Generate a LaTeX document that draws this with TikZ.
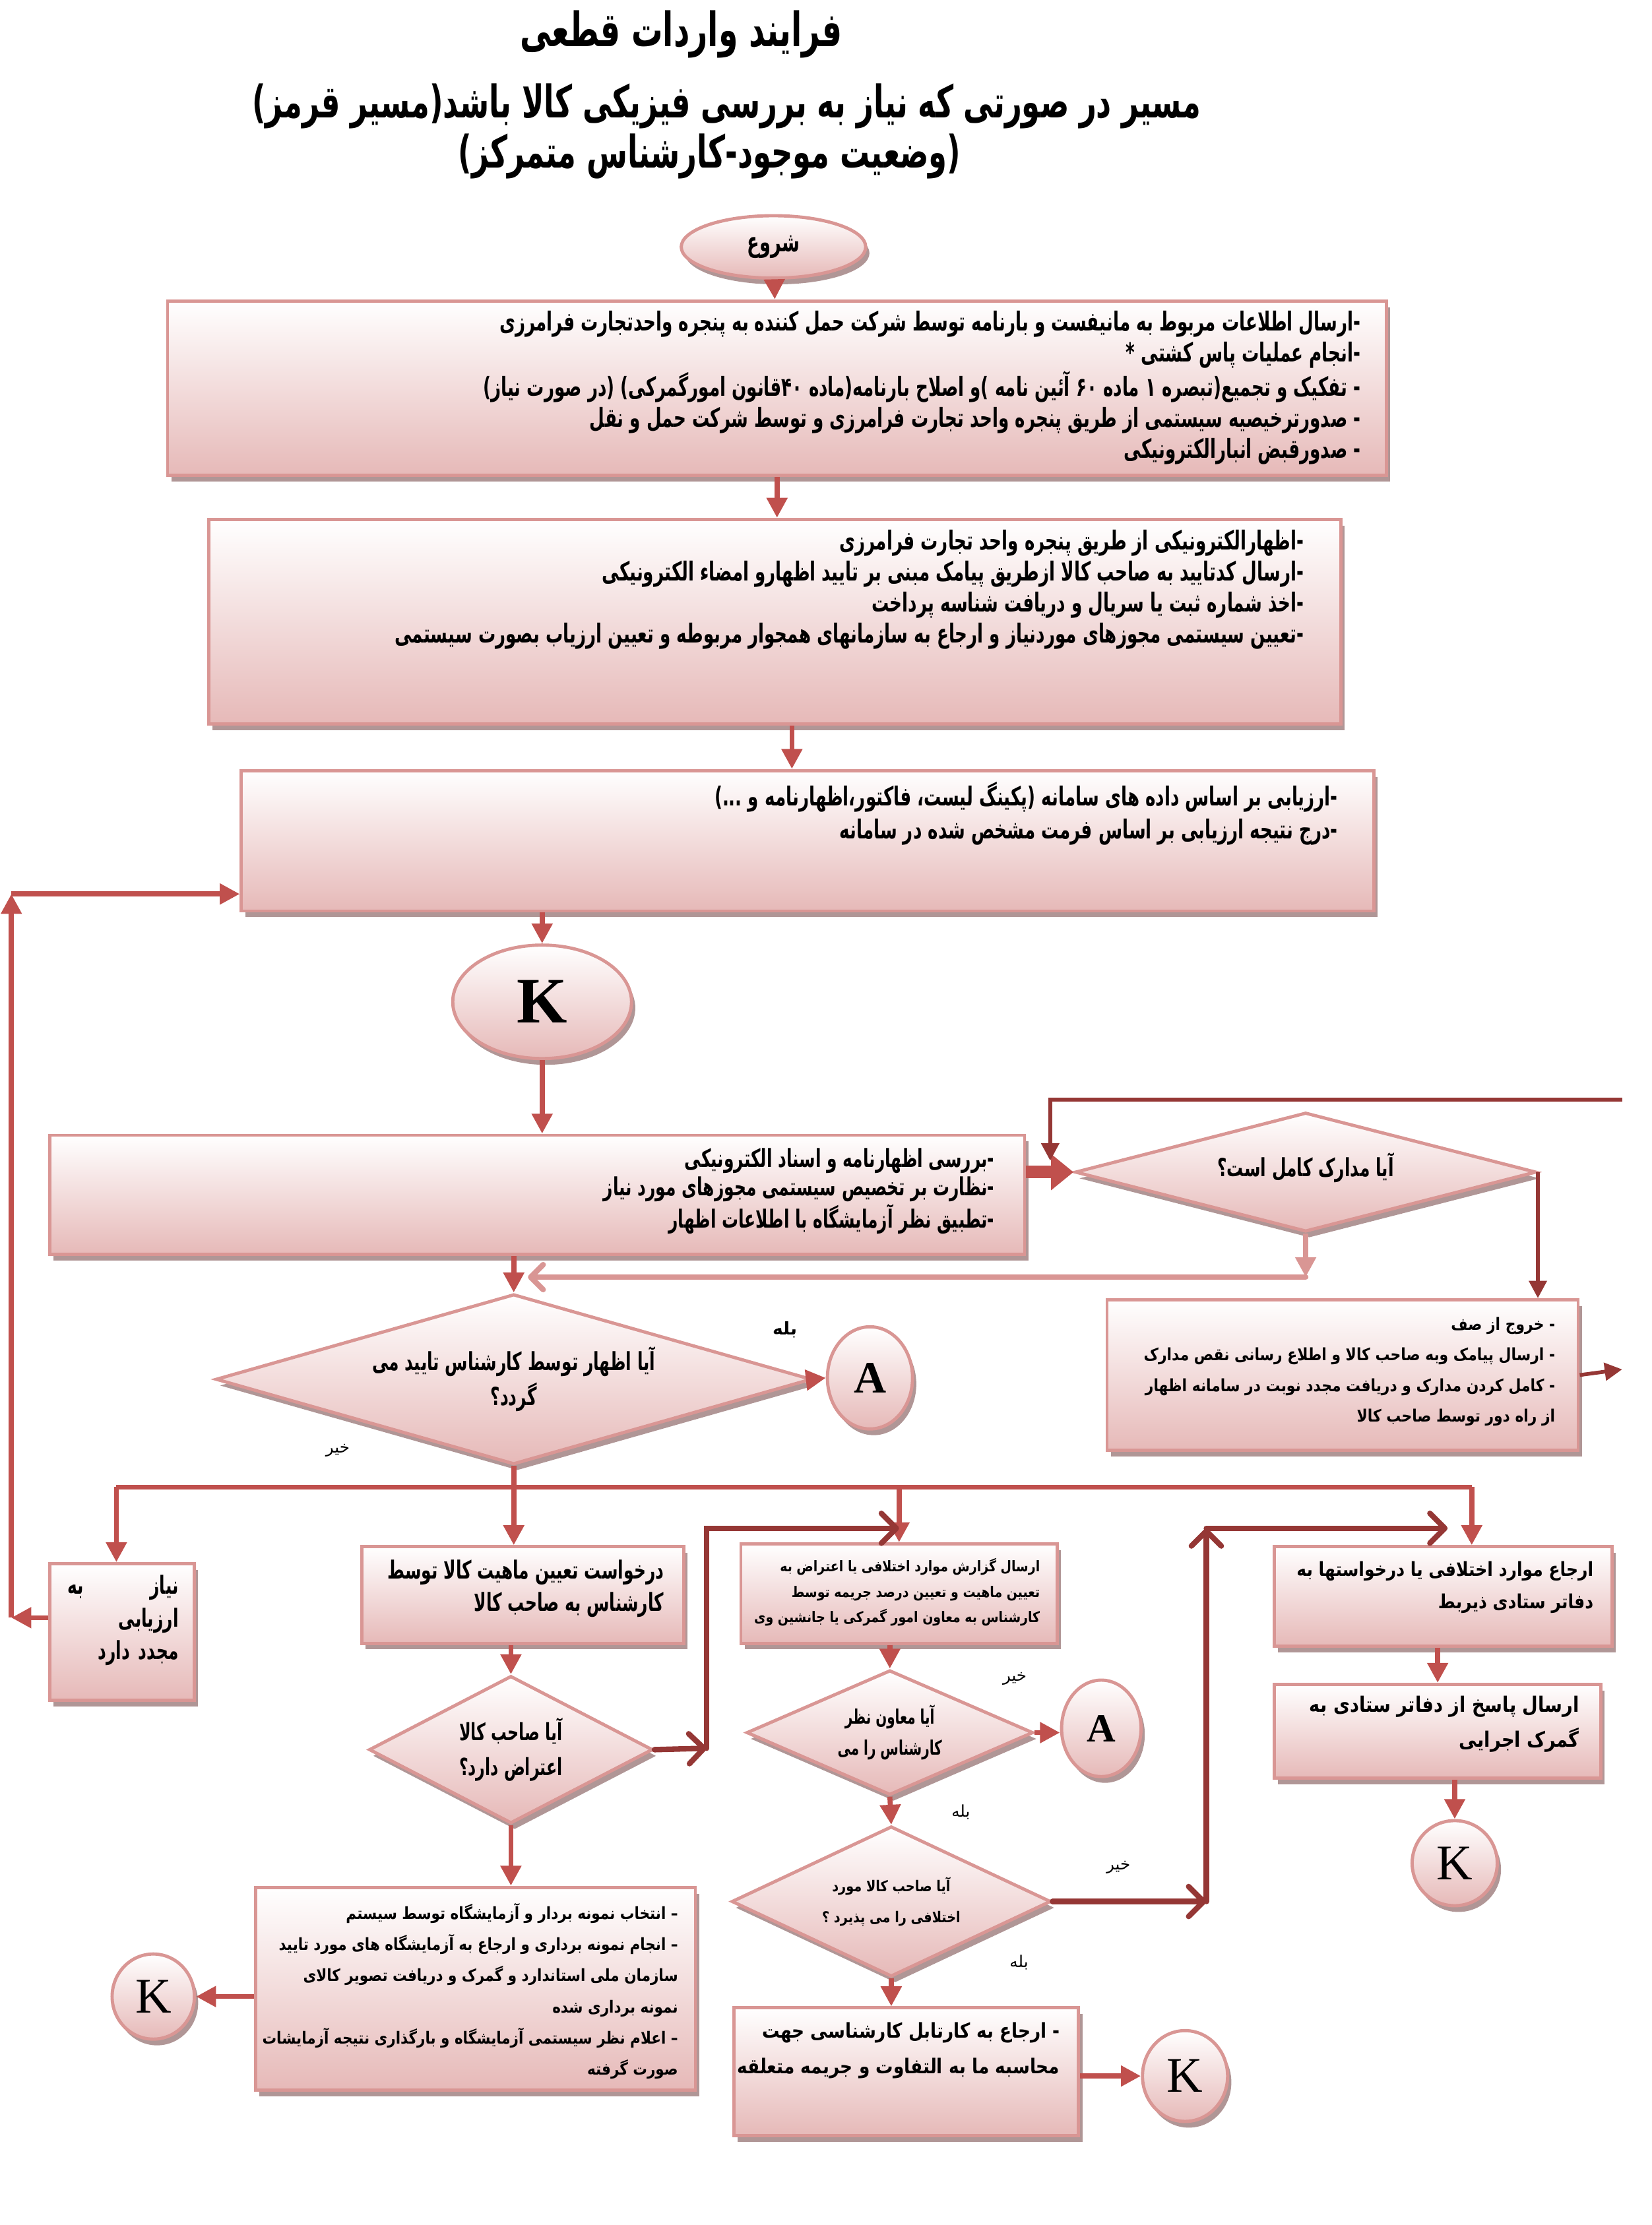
\documentclass[tikz,border=0pt]{standalone}
\usepackage{fontspec}
\usetikzlibrary{shapes.geometric, arrows.meta, positioning, shadows, calc}
\TeXXeTstate=1
\newfontfamily\fa[Script=Arabic]{DejaVu Sans}
\newfontfamily\facn[Script=Arabic,FakeStretch=0.66]{DejaVu Sans}
\newfontfamily\fanr[Script=Arabic,FakeStretch=0.85]{DejaVu Sans}
\newfontfamily\latin{Liberation Serif}
\newcommand{\rtl}[1]{\beginR#1\endR}

\definecolor{boxfill}{HTML}{E6B9B8}
\definecolor{boxline}{HTML}{D99694}
\definecolor{boxshade}{HTML}{B09696}
\definecolor{flowred}{HTML}{C0504D}
\definecolor{darkred}{HTML}{953735}
\definecolor{palered}{HTML}{D99694}

\begin{document}
\begin{tikzpicture}[x=0.02cm, y=-0.02cm,
    box/.style={draw=boxline, line width=1.3pt, top color=white, bottom color=boxfill,
      drop shadow={fill=boxshade, opacity=1, shadow xshift=1.5pt, shadow yshift=-2.5pt}},
    rbox/.style={box, rectangle, inner sep=0pt},
    ask/.style={box, diamond, inner sep=0pt},
    conn/.style={box, ellipse, inner sep=0pt, font=\latin\fontsize{20}{20}\selectfont},
    cbold/.style 2 args={font=\facn\bfseries\fontsize{#1}{#2}\selectfont, align=right, inner sep=0pt},
    nbold/.style 2 args={font=\fanr\bfseries\fontsize{#1}{#2}\selectfont, align=right, inner sep=0pt},
    flow/.style={draw=flowred, line width=2pt, -{Triangle[length=8pt,width=8pt]}},
    bigflow/.style={draw=flowred, line width=5pt, -{Triangle[length=9pt,width=14pt]}},
    darkflow/.style={draw=darkred, line width=1.5pt, -{Triangle[length=7pt,width=7pt]}},
    chev/.style={draw=darkred, line width=2.2pt, line cap=round, -{Straight Barb[length=6pt,width=12pt,round]}},
    pale/.style={draw=palered, line width=2pt, -{Triangle[length=8pt,width=8pt]}},
    palechev/.style={draw=palered, line width=2.2pt, line cap=round, -{Straight Barb[length=5pt,width=10pt,round]}},
    tag/.style={font=\fa\fontsize{6.5}{8}\selectfont, inner sep=0pt}
  ]
  \useasboundingbox (0,0) rectangle (1164,1568);

  % titles
  \node[cbold={19}{24}, align=center] (title) at (480,24) {\rtl{فرایند واردات  قطعی}};
  \node[cbold={18}{20}, align=center] (sub1) at (512,75) {\rtl{مسیر در صورتی که نیاز به بررسی فیزیکی کالا باشد(مسیر قرمز)}};
  \node[cbold={18}{20}, align=center] (sub2) at (500,110) {\rtl{(وضعیت موجود-کارشناس متمرکز)}};

  % upper part
  \node[box, ellipse, minimum width=2.6cm, minimum height=0.88cm, font=\facn\bfseries\fontsize{11}{12}\selectfont] (start) at (545,174) {\rtl{شروع}};

  \node[rbox, minimum width=17.18cm, minimum height=2.46cm] (b1) at (547.5,273.5) {};
  \node[cbold={10.5}{12.5}, anchor=north east] (b1t) at ($(b1.north east)+(-19,8)$) {%
    \rtl{-ارسال اطلاعات مربوط به مانیفست و بارنامه توسط شرکت حمل کننده به پنجره واحدتجارت فرامرزی}\\
    \rtl{-انجام عملیات پاس کشتی *}\\
    \rtl{- تفکیک و تجمیع(تبصره ۱ ماده ۶۰ آئین نامه )و اصلاح بارنامه(ماده ۴۰قانون امورگمرکی)  (در صورت نیاز)}\\
    \rtl{- صدورترخیصیه سیستمی از طریق پنجره واحد تجارت فرامرزی و توسط شرکت حمل و نقل}\\
    \rtl{- صدورقبض انبارالکترونیکی}};

  \node[rbox, minimum width=15.96cm, minimum height=2.88cm] (b2) at (546,438) {};
  \node[cbold={10.5}{12.5}, anchor=north east] (b2t) at ($(b2.north east)+(-27,8)$) {%
    \rtl{-اظهارالکترونیکی از طریق پنجره واحد تجارت فرامرزی}\\
    \rtl{-ارسال کدتایید به صاحب کالا ازطریق پیامک مبنی بر تایید اظهارو امضاء الکترونیکی}\\
    \rtl{-اخذ شماره ثبت یا سریال و دریافت شناسه پرداخت}\\
    \rtl{-تعیین سیستمی مجوزهای موردنیاز و ارجاع به سازمانهای همجوار مربوطه و تعیین ارزیاب  بصورت سیستمی}};

  \node[rbox, minimum width=15.96cm, minimum height=1.98cm] (b3) at (569,592.5) {};
  \node[cbold={10.5}{13}, anchor=north east] (b3t) at ($(b3.north east)+(-26,9)$) {%
    \rtl{-ارزیابی بر اساس داده های سامانه (پکینگ لیست، فاکتور،اظهارنامه و ...)}\\
    \rtl{-درج نتیجه ارزیابی بر اساس فرمت مشخص شده در سامانه}};

  \node[conn, minimum width=2.52cm, minimum height=1.6cm, font=\latin\bfseries\fontsize{26}{26}\selectfont] (k1) at (382,706) {K};

  \node[rbox, minimum width=13.74cm, minimum height=1.68cm] (b4) at (378.5,842) {};
  \node[cbold={10}{11.4}, anchor=north east] (b4t) at ($(b4.north east)+(-22,10)$) {%
    \rtl{-بررسی اظهارنامه و  اسناد الکترونیکی}\\
    \rtl{-نظارت بر تخصیص سیستمی مجوزهای مورد نیاز}\\
    \rtl{-تطبیق نظر آزمایشگاه با اطلاعات اظهار}};

  \node[ask, minimum width=6.5cm, minimum height=1.68cm] (d1) at (920,826) {};
  \node[cbold={10}{12}, align=center] (d1t) at ($(d1)+(0,-3)$) {\rtl{آیا مدارک کامل است؟}};

  \node[rbox, minimum width=6.64cm, minimum height=2.12cm] (b5) at (946,969) {};
  \node[nbold={6.8}{12.3}, anchor=north east] (b5t) at ($(b5.north east)+(-17,13)$) {%
    \rtl{- خروج از صف}\\
    \rtl{- ارسال پیامک وبه صاحب کالا و اطلاع رسانی نقص مدارک}\\
    \rtl{- کامل کردن مدارک  و دریافت  مجدد نوبت در سامانه اظهار}\\
    \rtl{از راه دور توسط صاحب کالا}};

  % expert decision
  \node[ask, minimum width=8.4cm, minimum height=2.4cm] (d2) at (362,972) {};
  \node[cbold={10}{14}, align=center] (d2t) at (d2) {\rtl{آیا اظهار  توسط کارشناس تایید می}\\ \rtl{گردد؟}};
  \node[conn, minimum width=1.2cm, minimum height=1.44cm, font=\latin\bfseries\fontsize{18}{18}\selectfont] (a1) at (613,971) {A};

  % lower part
  \node[rbox, minimum width=2.04cm, minimum height=1.92cm] (b6) at (86,1150) {};
  \node[cbold={10}{13}, anchor=north east, text width=1.56cm] (b6t) at ($(b6.north east)+(-12,9)$) {%
    \rtl{نیاز\hfill به}\\ \rtl{ارزیابی}\\ \rtl{مجدد دارد}};

  \node[rbox, minimum width=4.54cm, minimum height=1.36cm] (b7) at (368.5,1124) {};
  \node[cbold={10}{13}, anchor=north east] (b7t) at ($(b7.north east)+(-15,10)$) {%
    \rtl{درخواست  تعیین ماهیت کالا توسط}\\ \rtl{کارشناس به صاحب کالا}};

  \node[ask, minimum width=4cm, minimum height=2.08cm] (d3) at (360,1233) {};
  \node[cbold={9.5}{14}, align=center] (d3t) at (d3) {\rtl{آیا صاحب کالا}\\ \rtl{اعتراض دارد؟}};

  \node[rbox, minimum width=6.2cm, minimum height=2.86cm] (b8) at (335,1401.5) {};
  \node[nbold={6.7}{12.5}, anchor=north east] (b8t) at ($(b8.north east)+(-13,12)$) {%
    \rtl{– انتخاب نمونه بردار و آزمایشگاه توسط سیستم}\\
    \rtl{– انجام نمونه برداری و ارجاع به آزمایشگاه های مورد تایید}\\
    \rtl{سازمان ملی استاندارد و گمرک و دریافت تصویر کالای}\\
    \rtl{نمونه برداری شده}\\
    \rtl{– اعلام نظر سیستمی آزمایشگاه و بارگذاری نتیجه آزمایشات}\\
    \rtl{صورت گرفته}};
  \node[conn, minimum width=1.16cm, minimum height=1.2cm] (k2) at (108,1407) {K};

  \node[rbox, minimum width=4.46cm, minimum height=1.4cm] (b9) at (633.5,1123) {};
  \node[nbold={5.9}{10.2}, anchor=north east] (b9t) at ($(b9.north east)+(-13,11)$) {%
    \rtl{ارسال گزارش موارد اختلافی یا اعتراض به}\\
    \rtl{تعیین ماهیت و تعیین درصد جریمه توسط}\\
    \rtl{کارشناس به معاون امور گمرکی یا جانشین وی}};

  \node[ask, minimum width=4.04cm, minimum height=1.76cm] (d4) at (627,1221) {};
  \node[cbold={8}{12.5}, align=center] (d4t) at (d4) {\rtl{آیا معاون نظر}\\ \rtl{کارشناس را می}};
  \node[conn, minimum width=1.12cm, minimum height=1.36cm, font=\latin\bfseries\fontsize{16}{16}\selectfont] (a2) at (776,1218) {A};

  \node[ask, minimum width=4.5cm, minimum height=2.12cm] (d5) at (628,1340) {};
  \node[nbold={6}{12.5}, align=center] (d5t) at (d5) {\rtl{آیا صاحب کالا مورد}\\ \rtl{اختلافی را می پذیرد ؟}};

  \node[rbox, minimum width=4.86cm, minimum height=1.8cm] (b10) at (638.5,1460) {};
  \node[nbold={8.2}{14.2}, anchor=north east] (b10t) at ($(b10.north east)+(-14,11)$) {%
    \rtl{- ارجاع به کارتابل کارشناسی جهت}\\
    \rtl{محاسبه ما به التفاوت و جریمه متعلقه}};
  \node[conn, minimum width=1.2cm, minimum height=1.28cm] (k3) at (835,1463) {K};

  \node[rbox, minimum width=4.76cm, minimum height=1.4cm] (b11) at (1017,1125) {};
  \node[nbold={7.8}{13}, anchor=north east] (b11t) at ($(b11.north east)+(-14,11)$) {%
    \rtl{ارجاع موارد اختلافی یا درخواستها به}\\ \rtl{دفاتر ستادی ذیربط}};

  \node[rbox, minimum width=4.6cm, minimum height=1.32cm] (b12) at (1013,1220) {};
  \node[nbold={8.5}{14}, anchor=north east] (b12t) at ($(b12.north east)+(-16,9)$) {%
    \rtl{ارسال پاسخ از دفاتر ستادی به}\\ \rtl{گمرک اجرایی}};
  \node[conn, minimum width=1.2cm, minimum height=1.2cm] (k4) at (1025,1313) {K};

  % yes / no tags
  \node[tag, font=\fa\bfseries\fontsize{7}{8}\selectfont] (yes1) at (553,937) {\rtl{بله}};
  \node[tag] (no1) at (238,1022) {\rtl{خیر}};
  \node[tag] (no2) at (715,1183) {\rtl{خیر}};
  \node[tag] (yes2) at (677,1277) {\rtl{بله}};
  \node[tag] (no3) at (788,1316) {\rtl{خیر}};
  \node[tag] (yes3) at (718,1383) {\rtl{بله}};

  % helper points
  \coordinate (b23) at ($(b2.south)+(12,0)$);
  \coordinate (busL) at (82,1048);
  \coordinate (busR) at (1037,1048);
  \coordinate (lb) at (8,1140);
  \coordinate (lt) at (8,630);
  \coordinate (tr) at (1143,775);
  \coordinate (tl) at (740,775);
  \coordinate (tin) at (740,818);
  \coordinate (b5out) at (1143,965);
  \coordinate (pj) at (925,900);
  \coordinate (pl) at (372,900);
  \coordinate (c1) at (498,1232);
  \coordinate (c2) at (498,1077);
  \coordinate (c3) at (850,1340);
  \coordinate (c4) at (850,1077);
  \coordinate (c5) at (1020,1077);

  % connectors
  \draw[flow] (start) -- (b1);
  \draw[flow] (b1.south) -- (b1.south |- b2.north);
  \draw[flow] (b23) -- (b23 |- b3.north);
  \draw[flow] (k1.north |- b3.south) -- (k1.north);
  \draw[flow] (k1.south) -- (k1.south |- b4.north);
  \draw[bigflow] (b4.east |- d1.west) -- (d1.west);
  \draw[darkflow] (d1.east) -- (d1.east |- b5.north);
  \draw[darkflow] (tr) -- (tl) -- (tin);
  \draw[darkflow] (b5.east) -- (b5out);
  \draw[pale] (d1.south) -- (d1.south |- pj);
  \draw[palechev] (d1.south |- pj) -- (pl);
  \draw[flow] (b4.south -| d2.north) -- (d2.north);
  \draw[flow] (d2.east) -- (a1.west);
  \draw[flow, -] (busL) -- (busR);
  \draw[flow] (d2.south) -- (d2.south |- b7.north);
  \draw[flow] (busL) -- (busL |- b6.north);
  \draw[flow] (b9.north |- busL) -- (b9.north);
  \draw[flow] (busR) -- (busR |- b11.north);
  \draw[flow] (b6.west |- lb) -- (lb);
  \draw[flow] (lb) -- (lt);
  \draw[flow] (lt) -- (lt -| b3.west);
  \draw[flow] (b7.south -| d3.north) -- (d3.north);
  \draw[flow] (d3.south) -- (d3.south |- b8.north);
  \draw[flow] (b8.west |- k2.east) -- (k2.east);
  \draw[chev] (d3.east) -- (c1);
  \draw[chev] (c1) -- (c2) -- (c2 -| b9.north);
  \draw[flow] (b9.south -| d4.north) -- (d4.north);
  \draw[flow] (d4.east) -- (d4.east -| a2.west);
  \draw[flow] (d4.south) -- (d5.north);
  \draw[flow] (d5.south) -- (d5.south |- b10.north);
  \draw[flow] (b10.east |- k3.west) -- (k3.west);
  \draw[chev] (d5.east) -- (c3);
  \draw[chev] (c3) -- (c4);
  \draw[chev] (c4) -- (c5);
  \draw[flow] (b11.south -| b12.north) -- (b12.north);
  \draw[flow] (b12.south -| k4.north) -- (k4.north);
\end{tikzpicture}
\end{document}
